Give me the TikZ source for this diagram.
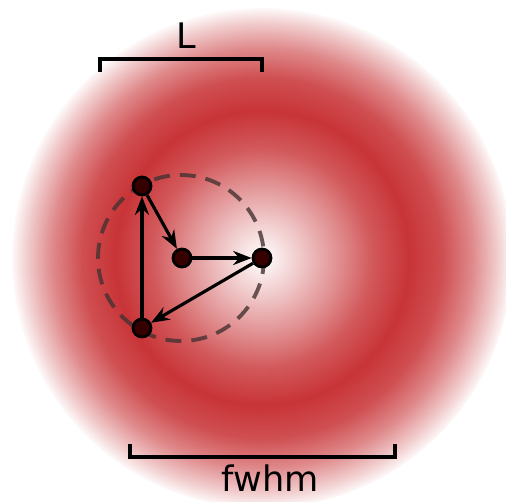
\documentclass[tikz,border=0pt]{standalone}
\usepackage{fontspec}
\setmainfont{DejaVu Sans}
\usetikzlibrary{arrows.meta}
\definecolor{ringred}{RGB}{200,52,55}
\definecolor{dotred}{RGB}{55,0,0}
\definecolor{dashgray}{RGB}{70,50,50}
\pgfdeclareradialshading{ring}{\pgfpoint{0bp}{0bp}}{%
  color(0bp)=(white); color(4bp)=(ringred!28!white);
  color(8bp)=(ringred!58!white); color(11bp)=(ringred!82!white);
  color(14.7bp)=(ringred); color(18bp)=(ringred!87!white);
  color(21bp)=(ringred!58!white); color(23.5bp)=(ringred!25!white);
  color(25.2bp)=(white); color(50bp)=(white)}
\tikzset{
  dot/.style={circle, fill=dotred, draw=black, line width=1.6pt,
    minimum size=0.36cm, inner sep=0pt},
  link/.style={line width=1.8pt, -{Stealth[length=10.5pt, width=8pt]}},
  bar/.style={line width=1.8pt},
  lbl/.style={font=\fontsize{20}{24}\selectfont}
}
\begin{document}
\begin{tikzpicture}[x=0.02cm, y=-0.02cm]
  \useasboundingbox (0,0) rectangle (506,502);
  \clip (0,0) rectangle (506,502);
  \shade[shading=ring] (262,258) circle (250);
  \draw[dashgray, opacity=0.8, line width=2.2pt, dash pattern=on 0.32cm off 0.2cm]
    (181,258) circle (83);
  \node[dot] (a) at (142,186) {};
  \node[dot] (b) at (182,258) {};
  \node[dot] (c) at (262,258) {};
  \node[dot] (d) at (142,328) {};
  \draw[link] (a) -- (b);
  \draw[link] (b) -- (c);
  \draw[link] (c) -- (d);
  \draw[link] (d) -- (a);
  % scale bars
  \coordinate (l1) at (100,72);
  \coordinate (l2) at (262,72);
  \draw[bar] (l1) -- ++(0,-13) -| (l2);
  \node[lbl] (lL) at (186,36) {L};
  \coordinate (f1) at (130,444);
  \coordinate (f2) at (395,444);
  \draw[bar] (f1) -- ++(0,13) -| (f2);
  \node[lbl] (lfwhm) at (270,478) {fwhm};
\end{tikzpicture}
\end{document}
